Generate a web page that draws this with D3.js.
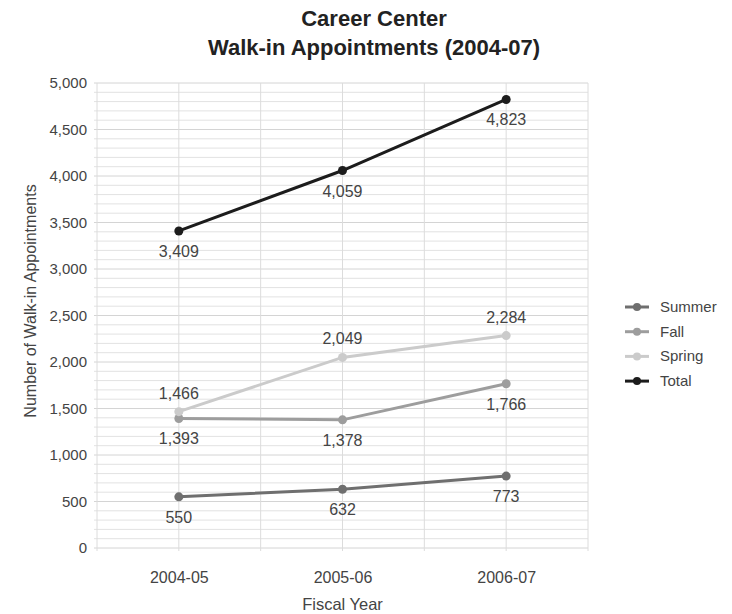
<!DOCTYPE html>
<html>
<head>
<meta charset="utf-8">
<script src="https://cdn.jsdelivr.net/npm/d3@7"></script>
<style>
  body { margin: 0; background: #fff; }
  text { font-family: "Liberation Sans", Arial, sans-serif; }
</style>
</head>
<body>
<div id="chart"></div>
<script>
// chart data
const years = ["2004-05", "2005-06", "2006-07"];
const seriesNames = ["Summer", "Fall", "Spring", "Total"];
const summer = [550, 632, 773];
const fall = [1393, 1378, 1766];
const spring = [1466, 2049, 2284];
const total = [3409, 4059, 4823];
const yTicks = [0, 500, 1000, 1500, 2000, 2500, 3000, 3500, 4000, 4500, 5000];
const colors = ["#6f6f6f", "#9d9d9d", "#cbcbcb", "#1c1c1c"];
// label above (-1) or below (+1) the point
const labelSide = [1, 1, -1, 1];

const width = 732, height = 614;
const margin = {top: 83, right: 144, bottom: 66, left: 97};
const w = width - margin.left - margin.right;
const h = height - margin.top - margin.bottom;

const svg = d3.select("#chart").append("svg")
    .attr("width", width)
    .attr("height", height);

const g = svg.append("g")
    .attr("transform", `translate(${margin.left},${margin.top})`);

const x = d3.scalePoint().domain(years).range([0, w]).padding(0.5);
const y = d3.scaleLinear().domain([0, 5000]).range([h, 0]);

// minor horizontal grid every 100
g.append("g").selectAll("line")
    .data(d3.range(0, 5001, 100))
    .enter().append("line")
    .attr("x1", -3).attr("x2", w)
    .attr("y1", d => y(d)).attr("y2", d => y(d))
    .attr("stroke", d => d % 500 === 0 ? "#d4d4d4" : "#e2e2e2")
    .attr("stroke-width", 1);

// vertical grid at category centers and halfway between
let step = x.step();
g.append("g").selectAll("line")
    .data(d3.range(0, 7))
    .enter().append("line")
    .attr("x1", d => d * step / 2).attr("x2", d => d * step / 2)
    .attr("y1", 0).attr("y2", h + 3)
    .attr("stroke", "#dcdcdc");

// y axis labels
const yAxis = g.append("g")
    .call(d3.axisLeft(y).tickValues(yTicks).tickFormat(d3.format(",")).tickSize(0).tickPadding(10));
yAxis.select(".domain").remove();
yAxis.selectAll("text").attr("font-size", 15).attr("fill", "#444");

// x axis labels
const xAxis = g.append("g")
    .attr("transform", `translate(0,${h})`)
    .call(d3.axisBottom(x).tickSize(0).tickPadding(24));
xAxis.select(".domain").remove();
xAxis.selectAll("text").attr("font-size", 16).attr("fill", "#444");

// axis titles
svg.append("text")
    .attr("x", margin.left + w / 2)
    .attr("y", 610)
    .attr("text-anchor", "middle")
    .attr("font-size", 16.5)
    .attr("fill", "#444")
    .text("Fiscal Year");

svg.append("text")
    .attr("transform", `translate(36,301) rotate(-90)`)
    .attr("text-anchor", "middle")
    .attr("font-size", 16)
    .attr("fill", "#444")
    .text("Number of Walk-in Appointments");

// title
const titleFont = "'Liberation Sans Narrow', 'Arial Narrow', 'Liberation Sans', sans-serif";
svg.append("text")
    .attr("x", 374).attr("y", 26)
    .attr("text-anchor", "middle")
    .attr("font-family", titleFont)
    .attr("font-weight", "bold")
    .attr("font-size", 22)
    .attr("fill", "#222")
    .text("Career Center");
svg.append("text")
    .attr("x", 374).attr("y", 55)
    .attr("text-anchor", "middle")
    .attr("font-family", titleFont)
    .attr("font-weight", "bold")
    .attr("font-size", 22)
    .attr("fill", "#222")
    .text("Walk-in Appointments (2004-07)");

const allSeries = [summer, fall, spring, total];
const line = d3.line()
    .x((d, i) => x(years[i]))
    .y(d => y(d));

allSeries.forEach((vals, si) => {
    g.append("path")
        .datum(vals)
        .attr("fill", "none")
        .attr("stroke", colors[si])
        .attr("stroke-width", 3)
        .attr("d", line);

    g.selectAll(".pt" + si)
        .data(vals)
        .enter().append("circle")
        .attr("class", "pt" + si)
        .attr("cx", (d, i) => x(years[i]))
        .attr("cy", d => y(d))
        .attr("r", 4.5)
        .attr("fill", colors[si]);

    g.selectAll(".lbl" + si)
        .data(vals)
        .enter().append("text")
        .attr("class", "lbl" + si)
        .attr("x", (d, i) => x(years[i]))
        .attr("y", d => y(d) + (labelSide[si] > 0 ? 26 : -13))
        .attr("text-anchor", "middle")
        .attr("font-size", 16)
        .attr("fill", "#444")
        .text(d => d3.format(",")(d));
});

// legend
const legend = svg.append("g").attr("transform", "translate(625,307)");
seriesNames.forEach((name, i) => {
    const row = legend.append("g").attr("transform", `translate(0,${i * 24.7})`);
    row.append("line")
        .attr("x1", 0).attr("x2", 24)
        .attr("stroke", colors[i]).attr("stroke-width", 3);
    row.append("circle")
        .attr("cx", 12).attr("r", 4)
        .attr("fill", colors[i]);
    row.append("text")
        .attr("x", 35).attr("y", 5)
        .attr("font-size", 15)
        .attr("fill", "#444")
        .text(name);
});
</script>
</body>
</html>
